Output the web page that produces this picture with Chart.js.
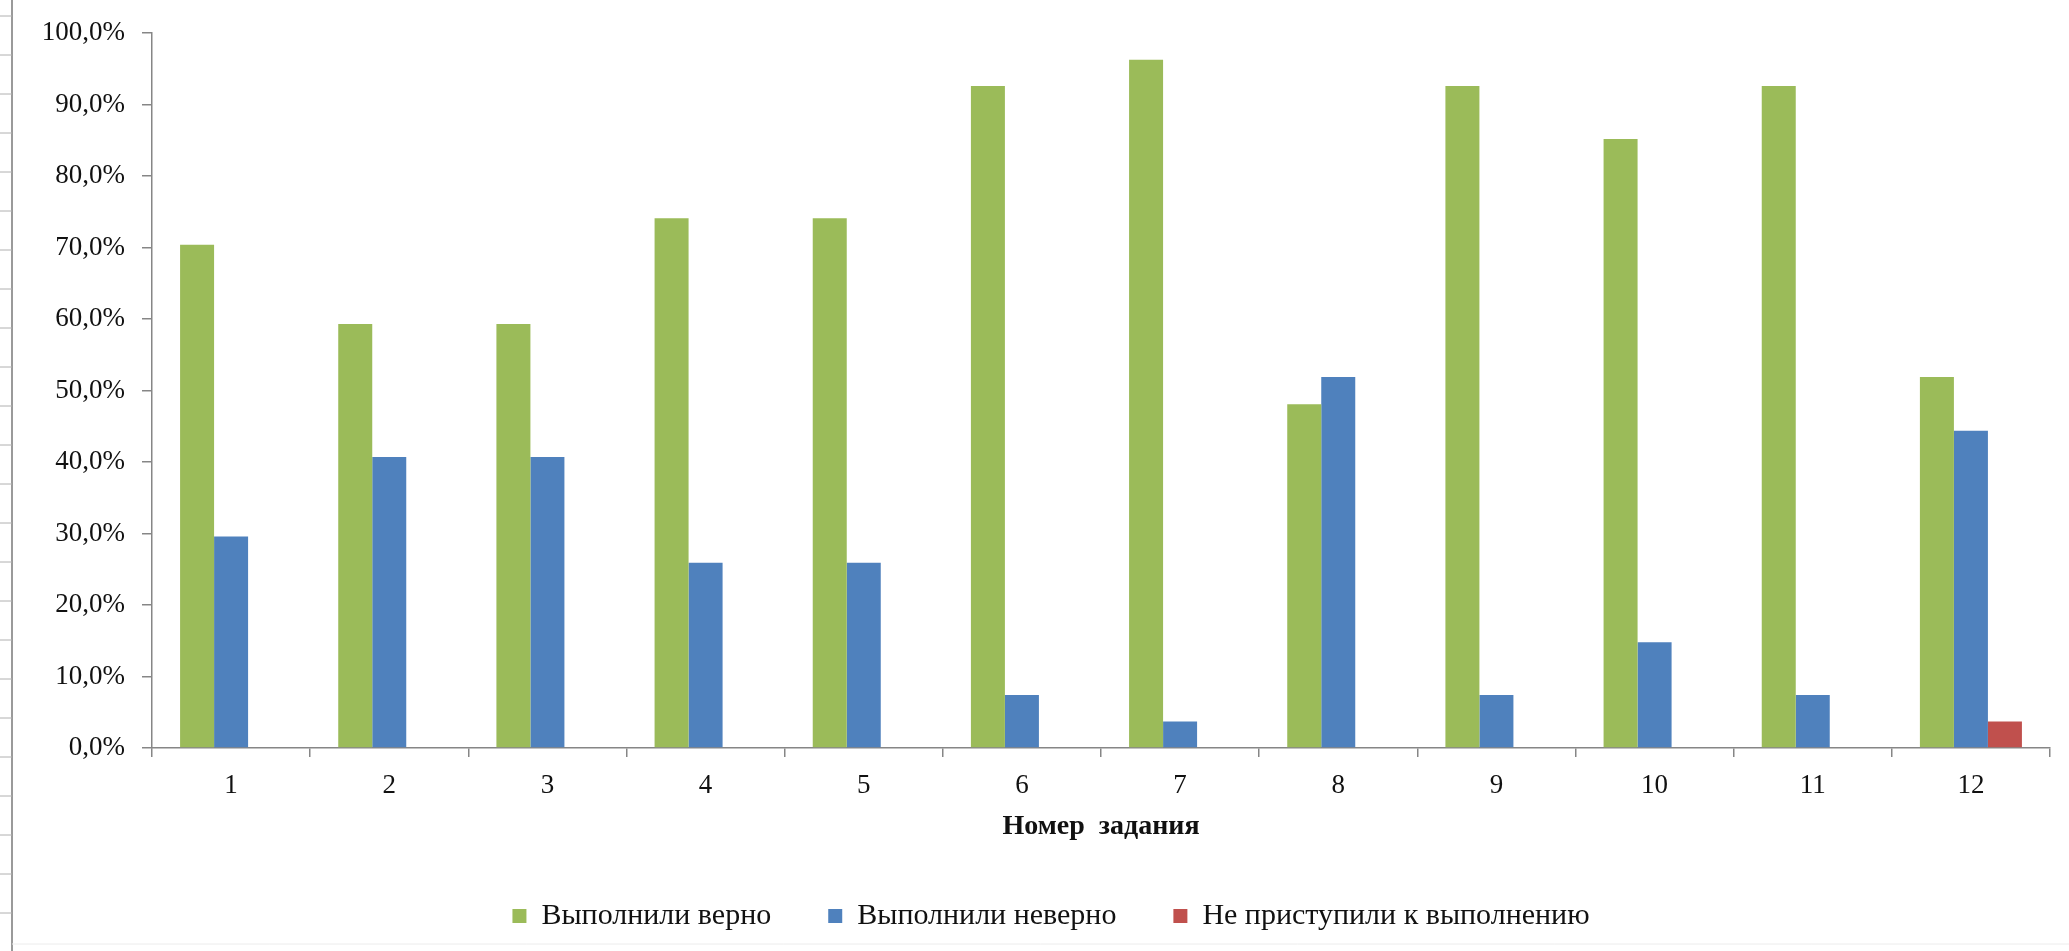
<!DOCTYPE html>
<html>
<head>
<meta charset="utf-8">
<script src="https://cdn.jsdelivr.net/npm/chart.js@4/dist/chart.umd.min.js"></script>
<style>
    body { margin: 0; background: #fff; }
    #chart { width: 2069px; height: 951px; }
</style>
</head>
<body>
<div id="chart"><canvas id="myChart"></canvas></div>
<script>
// номера заданий
const taskNumbers = ['1', '2', '3', '4', '5', '6', '7', '8', '9', '10', '11', '12'];
// доля учеников, %
const doneRight = [70.4, 59.3, 59.3, 74.1, 74.1, 92.6, 96.3, 48.1, 92.6, 85.2, 92.6, 51.9];
const doneWrong = [29.6, 40.7, 40.7, 25.9, 25.9, 7.4, 3.7, 51.9, 7.4, 14.8, 7.4, 44.4];
const notStarted = [0, 0, 0, 0, 0, 0, 0, 0, 0, 0, 0, 3.7];
const seriesNames = ['Выполнили верно', 'Выполнили неверно', 'Не приступили к выполнению'];

const serif = '"Liberation Serif", "Times New Roman", serif';
const axisGrey = '#868686';

// рамка листа слева и снизу
const sheetFrame = {
    id: 'sheetFrame',
    afterLayout(chart) {
        // легенда в оригинале чуть правее центра
        chart.legend.left = 52;
    },
    beforeDraw(chart) {
        const c = chart.ctx;
        c.save();
        c.strokeStyle = '#9a9a9a';
        c.lineWidth = 2;
        c.beginPath();
        c.moveTo(12, 0);
        c.lineTo(12, chart.height);
        c.stroke();
        c.lineWidth = 1;
        c.strokeStyle = '#b0b0b0';
        for (let y = 16; y < chart.height; y += 39) {
            c.beginPath();
            c.moveTo(0, y);
            c.lineTo(12, y);
            c.stroke();
        }
        c.strokeStyle = '#ececec';
        c.beginPath();
        c.moveTo(12, 944);
        c.lineTo(chart.width, 944);
        c.stroke();
        c.restore();
    }
};

const ctx = document.getElementById('myChart');

new Chart(ctx, {
    type: 'bar',
    data: {
        labels: taskNumbers,
        datasets: [
            { label: seriesNames[0], data: doneRight, backgroundColor: '#9BBB59' },
            { label: seriesNames[1], data: doneWrong, backgroundColor: '#4F81BD' },
            { label: seriesNames[2], data: notStarted, backgroundColor: '#C0504D' }
        ]
    },
    options: {
        responsive: true,
        maintainAspectRatio: false,
        animation: false,
        devicePixelRatio: 1,
        datasets: {
            bar: { categoryPercentage: 0.645, barPercentage: 1, borderWidth: 0 }
        },
        layout: { padding: { top: 28, right: 19, left: 0, bottom: 10 } },
        scales: {
            x: {
                grid: { drawOnChartArea: false, tickLength: 9, color: axisGrey, lineWidth: 1.5 },
                border: { color: axisGrey, width: 1.5 },
                ticks: { color: '#111', font: { family: serif, size: 27 }, padding: 13 },
                title: {
                    display: true,
                    text: 'Номер  задания',
                    color: '#111',
                    font: { family: serif, size: 28, weight: 'bold' },
                    padding: { top: 0, bottom: 0 }
                },
                afterFit(scale) { scale.height = 96; }
            },
            y: {
                min: 0,
                max: 100,
                grid: { drawOnChartArea: false, tickLength: 10, color: axisGrey, lineWidth: 1.5 },
                border: { color: axisGrey, width: 1.5 },
                ticks: {
                    stepSize: 10,
                    color: '#111',
                    padding: 17,
                    font: { family: serif, size: 27 },
                    callback: (v) => v.toFixed(1).replace('.', ',') + '%'
                },
                afterFit(scale) { scale.width = 152; }
            }
        },
        plugins: {
            legend: {
                position: 'bottom',
                labels: {
                    color: '#111',
                    font: { family: serif, size: 30 },
                    boxWidth: 14,
                    boxHeight: 14,
                    padding: 57
                }
            },
            tooltip: { enabled: false }
        }
    },
    plugins: [sheetFrame]
});
</script>
</body>
</html>
